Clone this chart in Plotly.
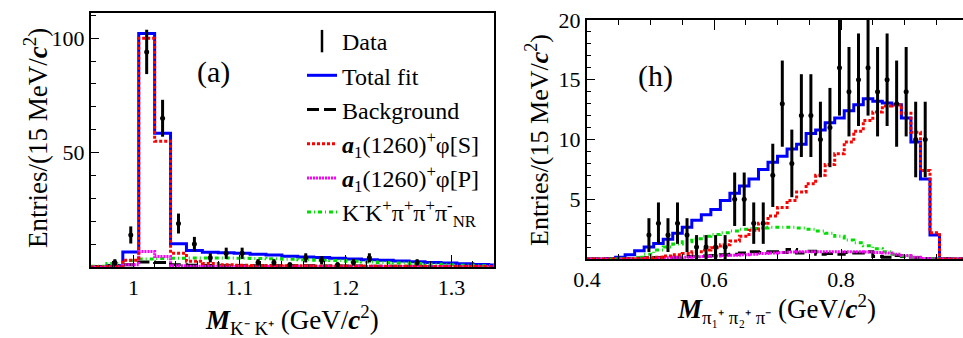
import plotly.graph_objects as go

# ---------------- Panel (a): M(K- K+) ----------------
A_BIN_W = 0.015
A_CENTERS = [0.9675, 0.9825, 0.9975, 1.0125, 1.0275, 1.0425, 1.0575, 1.0725, 1.0875,
             1.1025, 1.1175, 1.1325, 1.1475, 1.1625, 1.1775, 1.1925, 1.2075, 1.2225,
             1.2375, 1.2525, 1.2675, 1.2825, 1.2975, 1.3125, 1.3275, 1.3425]
A_TOTAL = [0.2, 0.5, 6.6, 102.0, 58.5, 10.2, 7.2, 6.5, 6.2, 6.0, 5.6, 5.2, 4.7, 4.4,
           4.1, 3.8, 3.5, 3.2, 2.9, 2.6, 2.3, 2.0, 1.7, 1.4, 1.1, 0.9]
A_BKG = [0.2, 0.5, 1.0, 2.2, 2.0, 1.0, 0.8, 0.7, 0.6, 0.6, 0.6, 0.5, 0.5, 0.5, 0.4,
         0.4, 0.4, 0.3, 0.3, 0.3, 0.3, 0.2, 0.2, 0.2, 0.2, 0.2]
A_S = [0.0, 0.2, 3.0, 100.0, 55.0, 6.0, 2.5, 1.5, 1.0, 0.8, 0.7, 0.6, 0.5, 0.5, 0.4,
       0.4, 0.4, 0.3, 0.3, 0.3, 0.3, 0.2, 0.2, 0.2, 0.2, 0.2]
A_P = [0.0, 0.1, 1.0, 6.8, 4.6, 0.5, 0.3, 0.2, 0.2, 0.2, 0.2, 0.2, 0.2, 0.2, 0.2,
       0.2, 0.2, 0.2, 0.2, 0.2, 0.2, 0.2, 0.2, 0.2, 0.2, 0.2]
A_NR = [0.3, 1.5, 2.8, 3.5, 3.7, 3.8, 3.9, 3.9, 3.9, 3.8, 3.7, 3.6, 3.4, 3.2, 3.0,
        2.8, 2.5, 2.2, 2.0, 1.7, 1.5, 1.2, 1.0, 0.8, 0.6, 0.5]
A_DATA_X = [0.9825, 0.9975, 1.0125, 1.0275, 1.0425, 1.0575, 1.0725, 1.0875, 1.1025,
            1.1175, 1.1325, 1.1475, 1.1625, 1.1775, 1.1925, 1.2075, 1.2225, 1.2675]
A_DATA_Y = [2, 14, 94, 65, 19, 10, 4, 6, 6, 2, 2, 1, 4, 3, 1, 2, 4, 2]

# ---------------- Panel (h): M(pi1+ pi2+ pi-) ----------------
H_BIN_W = 0.015
H_CENTERS = [0.4075, 0.4225, 0.4375, 0.4525, 0.4675, 0.4825, 0.4975, 0.5125, 0.5275,
             0.5425, 0.5575, 0.5725, 0.5875, 0.6025, 0.6175, 0.6325, 0.6475, 0.6625,
             0.6775, 0.6925, 0.7075, 0.7225, 0.7375, 0.7525, 0.7675, 0.7825, 0.7975,
             0.8125, 0.8275, 0.8425, 0.8575, 0.8725, 0.8875, 0.9025, 0.9175, 0.9325,
             0.9475, 0.9625, 0.9775, 0.9925]
H_TOTAL = [0.0, 0.0, 0.05, 0.15, 0.35, 0.7, 1.0, 1.3, 1.65, 2.15, 2.65, 3.25, 3.7,
           4.15, 4.9, 5.5, 6.1, 6.7, 7.5, 8.1, 8.6, 9.2, 9.6, 10.5, 10.8, 11.4, 11.8,
           12.4, 12.9, 13.4, 13.2, 13.05, 12.9, 11.8, 9.8, 6.7, 2.0, 0.05, 0.0, 0.0]
H_BKG = [0.0, 0.0, 0.0, 0.02, 0.05, 0.08, 0.1, 0.12, 0.15, 0.15, 0.2, 0.2, 0.25, 0.3,
         0.35, 0.4, 0.5, 0.6, 0.55, 0.6, 0.55, 0.8, 0.5, 0.65, 0.4, 0.45, 0.4, 0.55,
         0.5, 0.6, 0.2, 0.15, 0.3, 0.2, 0.1, 0.05, 0.02, 0.0, 0.0, 0.0]
H_S = [0.0, 0.0, 0.0, 0.0, 0.02, 0.05, 0.1, 0.15, 0.25, 0.35, 0.45, 0.6, 0.75, 0.95,
       1.2, 1.5, 1.9, 2.4, 3.0, 3.6, 4.3, 4.9, 5.6, 6.3, 7.0, 7.9, 8.8, 9.8, 10.7,
       11.6, 12.3, 12.8, 12.9, 12.2, 10.6, 7.4, 2.2, 0.0, 0.0, 0.0]
H_P = [0.0, 0.0, 0.0, 0.0, 0.02, 0.03, 0.05, 0.08, 0.1, 0.12, 0.15, 0.18, 0.2, 0.25,
       0.3, 0.32, 0.35, 0.4, 0.45, 0.5, 0.55, 0.58, 0.6, 0.6, 0.6, 0.6, 0.6, 0.6,
       0.6, 0.58, 0.55, 0.5, 0.4, 0.3, 0.15, 0.05, 0.02, 0.0, 0.0, 0.0]
H_NR = [0.0, 0.0, 0.0, 0.02, 0.05, 0.15, 0.4, 0.75, 1.0, 1.25, 1.45, 1.7, 1.9, 2.05,
        2.2, 2.35, 2.5, 2.55, 2.6, 2.65, 2.65, 2.65, 2.6, 2.5, 2.35, 2.15, 1.9, 1.6,
        1.35, 1.1, 0.85, 0.6, 0.4, 0.25, 0.12, 0.05, 0.02, 0.0, 0.0, 0.0]
H_DATA_X = [0.4975, 0.5125, 0.5275, 0.5425, 0.5575, 0.5725, 0.5875, 0.6025, 0.6175,
            0.6325, 0.6475, 0.6625, 0.6775, 0.6925, 0.7075, 0.7225, 0.7375, 0.7525,
            0.7675, 0.7825, 0.7975, 0.8125, 0.8275, 0.8425, 0.8575, 0.8725, 0.8875,
            0.9025, 0.9175, 0.9325]
H_DATA_Y = [2, 3, 2, 3, 2, 1, 1, 1, 1, 5, 5, 3, 3, 7, 13, 8, 12, 12, 10, 11, 16, 14,
            15, 16, 14, 15, 13, 14, 10, 10]

LEGEND_NAMES = ["Data", "Total fit", "Background",
                "<b><i>a</i></b><sub>1</sub>(1260)<sup>+</sup>\u03c6[S]",
                "<b><i>a</i></b><sub>1</sub>(1260)<sup>+</sup>\u03c6[P]",
                "K<sup>-</sup>K<sup>+</sup>\u03c0<sup>+</sup>\u03c0<sup>+</sup>\u03c0<sup>-</sup><sub>NR</sub>"]

FONT = "Liberation Serif, Times New Roman, serif"
W, H = 963, 338


def step_xy(centers, vals, w):
    xs = [c - w / 2 for c in centers] + [centers[-1] + w / 2]
    ys = list(vals) + [vals[-1]]
    return xs, ys


STYLES = {
    "total": dict(color="#0000ff", width=3, dash="solid"),
    "bkg": dict(color="black", width=3, dash="12px,5px"),
    "S": dict(color="#ff0000", width=3, dash="3px,2px"),
    "P": dict(color="#ff00ff", width=3, dash="2px,1px"),
    "NR": dict(color="#00dd00", width=3, dash="4px,3px,1px,3px"),
}

fig = go.Figure()


def add_panel(centers, w, total, bkg, s, p, nr, dx, dy, xa, ya, show):
    order = [("total", total, LEGEND_NAMES[1], 2),
             ("bkg", bkg, LEGEND_NAMES[2], 3),
             ("NR", nr, LEGEND_NAMES[5], 6),
             ("P", p, LEGEND_NAMES[4], 5),
             ("S", s, LEGEND_NAMES[3], 4)]
    for key, vals, name, rank in order:
        xs, ys = step_xy(centers, vals, w)
        fig.add_trace(go.Scatter(x=xs, y=ys, mode="lines", line_shape="hv",
                                 line=STYLES[key], name=name, legendrank=rank,
                                 showlegend=show, xaxis=xa, yaxis=ya,
                                 hoverinfo="skip"))
    fig.add_trace(go.Scatter(x=dx, y=dy, mode="markers",
                             marker=dict(color="black", size=5),
                             error_y=dict(type="data", array=[v ** 0.5 for v in dy],
                                          color="black", thickness=3, width=0),
                             showlegend=False, xaxis=xa, yaxis=ya))


add_panel(A_CENTERS, A_BIN_W, A_TOTAL, A_BKG, A_S, A_P, A_NR, A_DATA_X, A_DATA_Y,
          "x", "y", True)
add_panel(H_CENTERS, H_BIN_W, H_TOTAL, H_BKG, H_S, H_P, H_NR, H_DATA_X, H_DATA_Y,
          "x2", "y2", False)

# legend entry for data (vertical error-bar symbol)
fig.add_trace(go.Scatter(x=[None], y=[None], mode="markers", name=LEGEND_NAMES[0],
                         legendrank=1, xaxis="x", yaxis="y",
                         marker=dict(symbol="line-ns", size=18,
                                     line=dict(width=2.5, color="black"))))

axis_common = dict(showline=True, linecolor="black", linewidth=2, ticks="inside",
                   tickcolor="black", showgrid=False, zeroline=False, automargin=False,
                   tickfont=dict(family=FONT, size=22, color="black"))

fig.update_layout(
    template="none",
    width=W, height=H, margin=dict(l=0, r=0, t=0, b=0, pad=0, autoexpand=False),
    paper_bgcolor="white", plot_bgcolor="white",
    font=dict(family=FONT, color="black"),
    showlegend=True,
    legend=dict(x=302 / W, y=1 - 19 / H, xanchor="left", yanchor="top",
                bgcolor="rgba(0,0,0,0)", font=dict(family=FONT, size=24, color="black"),
                tracegroupgap=0, itemwidth=30),
    xaxis=dict(domain=[91 / W, 494 / W], range=[0.96, 1.34], mirror=True,
               tickvals=[1.0, 1.1, 1.2, 1.3], ticktext=["1", "1.1", "1.2", "1.3"],
               ticklen=12, tickwidth=1,
               minor=dict(tickmode="linear", tick0=1.0, dtick=0.02, ticklen=6,
                          ticks="inside", tickcolor="black", tickwidth=1),
               anchor="y", **axis_common),
    yaxis=dict(domain=[1 - 267 / H, 1 - 13 / H], range=[0, 111], mirror=True,
               tickvals=[50, 100], ticklen=8, tickwidth=1,
               minor=dict(tickmode="linear", tick0=0, dtick=10, ticklen=5,
                          ticks="inside", tickcolor="black", tickwidth=1),
               anchor="x", **axis_common),
    xaxis2=dict(domain=[587 / W, 1.0], range=[0.4, 0.992], mirror="allticks",
                tickvals=[0.4, 0.6, 0.8], ticklen=10, tickwidth=1,
                minor=dict(tickmode="linear", tick0=0.4, dtick=0.05, ticklen=5,
                           ticks="inside", tickcolor="black", tickwidth=1),
                anchor="y2", **axis_common),
    yaxis2=dict(domain=[1 - 259 / H, 1 - 20 / H], range=[0, 20], mirror=False,
                tickvals=[5, 10, 15, 20], ticklen=8, tickwidth=1,
                minor=dict(tickmode="linear", tick0=0, dtick=1, ticklen=4,
                           ticks="inside", tickcolor="black", tickwidth=1),
                anchor="x2", **axis_common),
)

ann_font = dict(family=FONT, size=27, color="black")
annotations = [
    dict(text="Entries/(15 MeV/<b><i>c</i></b><sup>2</sup>)", x=36 / W, y=1 - 138 / H,
         textangle=-90, font=ann_font),
    dict(text="Entries/(15 MeV/<b><i>c</i></b><sup>2</sup>)", x=537 / W, y=1 - 140 / H,
         textangle=-90, font=dict(family=FONT, size=26, color="black")),
    dict(text="<b><i>M</i></b><sub>K\u207b K\u207a</sub> (GeV/<b><i>c</i></b><sup>2</sup>)",
         x=292 / W, y=1 - 320 / H, font=ann_font),
    dict(text="<b><i>M</i></b><sub>\u03c0\u2081\u207a \u03c0\u2082\u207a \u03c0\u207b</sub> (GeV/<b><i>c</i></b><sup>2</sup>)",
         x=776 / W, y=1 - 309 / H, font=ann_font),
    dict(text="(a)", x=213 / W, y=1 - 72 / H, font=dict(family=FONT, size=30, color="black")),
    dict(text="(h)", x=655 / W, y=1 - 76 / H, font=dict(family=FONT, size=30, color="black")),
]
for a in annotations:
    a.update(xref="paper", yref="paper", showarrow=False, xanchor="center", yanchor="middle")
fig.update_layout(annotations=annotations)

fig.write_html("out.html")
